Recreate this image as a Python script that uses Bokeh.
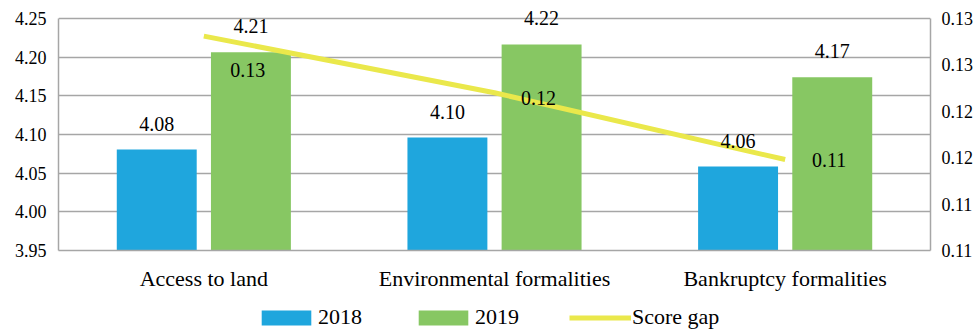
from bokeh.plotting import figure
from bokeh.layouts import column
from bokeh.models import (ColumnDataSource, FactorRange, Range1d, LinearAxis, FixedTicker,
                          NumeralTickFormatter, CustomJSTickFormatter, Label, Legend, LegendItem)
from bokeh.transform import dodge
from bokeh.embed import file_html
from bokeh.resources import INLINE

# ---- data ----
categories = ["Access to land", "Environmental formalities", "Bankruptcy formalities"]
score_2018 = [4.0806, 4.096, 4.0586]
score_2019 = [4.2065, 4.2164, 4.174]
score_gap = [0.1281, 0.1220, 0.1148]
series_names = ["2018", "2019", "Score gap"]

left_ticks = [3.95, 4.00, 4.05, 4.10, 4.15, 4.20, 4.25]
right_ticks = [0.105, 0.110, 0.115, 0.120, 0.125, 0.130]
right_tick_labels = ["0.11", "0.11", "0.12", "0.12", "0.13", "0.13"]

# label nudges (screen px) for the score-gap labels
gap_label_dy = [-34, -5, 0]

FONT = "Liberation Serif"
BLUE = "#1FA6DD"
GREEN = "#87C763"
YELLOW = "#EAE84B"
GRID = "#A6A6A6"

# layout: axes span 232 px; 18 px of free frame space above them for labels
AXIS_PX = 232
TOP_PX = 18
lpad = (left_ticks[-1] - left_ticks[0]) * TOP_PX / AXIS_PX
rpad = (right_ticks[-1] - right_ticks[0]) * TOP_PX / AXIS_PX

src = ColumnDataSource(dict(cat=categories, y2018=score_2018, y2019=score_2019, gap=score_gap))

p = figure(x_range=FactorRange(*categories),
           y_range=Range1d(left_ticks[0], left_ticks[-1] + lpad),
           frame_width=872, frame_height=AXIS_PX + TOP_PX,
           width=978, height=290,
           min_border_left=58, min_border_right=48, min_border_top=0, min_border_bottom=40,
           output_backend="svg", toolbar_location=None)
p.extra_y_ranges = {"gap": Range1d(right_ticks[0], right_ticks[-1] + rpad)}
p.outline_line_color = None
p.background_fill_color = "white"
p.border_fill_color = "white"

bw = 0.275
off = 0.162
r18 = p.vbar(x=dodge("cat", -off, range=p.x_range), top="y2018", bottom=left_ticks[0], width=bw,
             source=src, fill_color=BLUE, line_color=None)
r19 = p.vbar(x=dodge("cat", off, range=p.x_range), top="y2019", bottom=left_ticks[0], width=bw,
             source=src, fill_color=GREEN, line_color=None)
rl = p.line(x="cat", y="gap", source=src, y_range_name="gap", line_color=YELLOW, line_width=5)

# axes
p.yaxis.ticker = FixedTicker(ticks=left_ticks)
p.yaxis.formatter = NumeralTickFormatter(format="0.00")
p.yaxis.bounds = (left_ticks[0], left_ticks[-1])
p.ygrid.ticker = FixedTicker(ticks=left_ticks)
p.ygrid.grid_line_color = GRID
p.ygrid.grid_line_width = 1.5
p.xgrid.grid_line_color = None

ra = LinearAxis(y_range_name="gap", ticker=FixedTicker(ticks=right_ticks),
                bounds=(right_ticks[0], right_ticks[-1]),
                formatter=CustomJSTickFormatter(args=dict(labels=right_tick_labels),
                                                code="return labels[index];"))
p.add_layout(ra, "right")

for ax in [p.yaxis[0], ra]:
    ax.axis_line_color = GRID
    ax.axis_line_width = 1.5
    ax.major_tick_line_color = None
    ax.minor_tick_line_color = None
    ax.major_tick_out = 0
    ax.major_tick_in = 0
    ax.major_label_text_font = FONT
    ax.major_label_text_font_size = "18px"
    ax.major_label_text_color = "black"
p.yaxis[0].major_label_standoff = 12
ra.major_label_standoff = 11

xa = p.xaxis[0]
xa.axis_line_color = GRID
xa.axis_line_width = 1.5
xa.major_tick_line_color = None
xa.major_tick_out = 0
xa.major_tick_in = 0
xa.major_label_text_font = FONT
xa.major_label_text_font_size = "22px"
xa.major_label_text_color = "black"
xa.major_label_standoff = 15

# data labels (x in the factor range's synthetic coordinates: category i centred at i + 0.5)
lab_kw = dict(text_font=FONT, text_font_size="20px", text_color="black",
              text_align="center", text_baseline="middle")
for i, (v18, v19, g, dy) in enumerate(zip(score_2018, score_2019, score_gap, gap_label_dy)):
    xc = i + 0.5
    p.add_layout(Label(x=xc - off, y=v18, text=f"{v18:.2f}", y_offset=26, **lab_kw))
    p.add_layout(Label(x=xc + off, y=v19, text=f"{v19:.2f}", y_offset=26, **lab_kw))
    p.add_layout(Label(x=xc, y=g, y_range_name="gap", text=f"{g:.2f}", x_offset=44, y_offset=dy,
                       **lab_kw))

# legend strip (its own small figure below the chart; swatch proxies hold only NaN, so draw nothing)
nan = float("nan")
pl = figure(width=978, height=40, x_range=Range1d(0, 1), y_range=Range1d(0, 1),
            x_axis_type=None, y_axis_type=None, min_border=0,
            output_backend="svg", toolbar_location=None)
pl.outline_line_color = None
pl.xgrid.grid_line_color = None
pl.ygrid.grid_line_color = None
pl.border_fill_color = "white"
s18 = pl.vbar(x=[nan], top=[nan], width=0.1, fill_color=BLUE, line_color=None)
s19 = pl.vbar(x=[nan], top=[nan], width=0.1, fill_color=GREEN, line_color=None)
sgap = pl.line(x=[nan, nan], y=[nan, nan], line_color=YELLOW, line_width=5)

legend = Legend(items=[LegendItem(label=series_names[0], renderers=[s18]),
                       LegendItem(label=series_names[1], renderers=[s19]),
                       LegendItem(label=series_names[2], renderers=[sgap])],
                orientation="horizontal", location=(197, 3),
                padding=0, margin=0, spacing=50, label_standoff=1,
                glyph_width=62, glyph_height=19,
                label_text_font=FONT, label_text_font_size="22px",
                label_text_color="black",
                background_fill_alpha=0, border_line_color=None)
pl.add_layout(legend)

layout = column(p, pl, spacing=0)
open("out.html", "w").write(file_html(layout, INLINE))
